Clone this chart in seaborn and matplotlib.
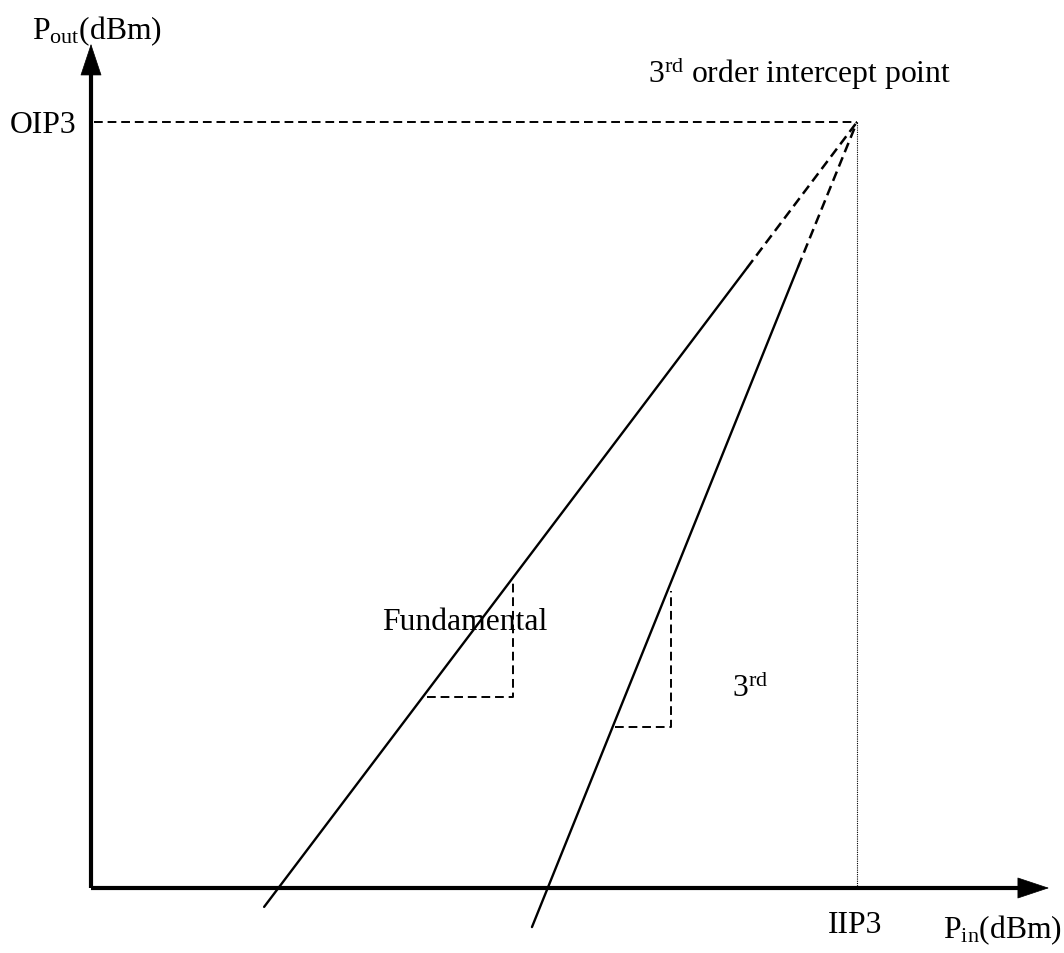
import numpy as np
import pandas as pd
import matplotlib
matplotlib.use("Agg")
import matplotlib.pyplot as plt
import seaborn as sns

# ---- data (arbitrary dBm units; IIP3 = OIP3 = 30) ----
IIP3 = 30.0
OIP3 = 30.0
fund_solid_x = [6.78, 25.69]
fund_solid_y = [-0.74, 24.28]
fund_dash_x = [25.69, IIP3]
fund_dash_y = [24.28, OIP3]
third_solid_x = [17.27, 27.69]
third_solid_y = [-1.53, 24.32]
third_dash_x = [27.69, IIP3]
third_dash_y = [24.32, OIP3]
fund_tri_x = [13.16, 16.53, 16.53]
fund_tri_y = [7.48, 7.48, 12.10]
third_tri_x = [20.52, 22.72, 22.72]
third_tri_y = [6.31, 6.31, 11.63]
x_axis_end = 37.52
y_axis_end = 33.06

sns.set_theme(style="white")
plt.rcParams['font.family'] = ['Liberation Serif', 'DejaVu Serif']
plt.rcParams['text.color'] = 'black'
plt.rcParams['mathtext.fontset'] = 'custom'
plt.rcParams['mathtext.rm'] = 'Liberation Serif'
plt.rcParams['mathtext.it'] = 'Liberation Serif:italic'
plt.rcParams['mathtext.bf'] = 'Liberation Serif:bold'

fig = plt.figure(figsize=(10.64, 9.54), dpi=100)
ax = fig.add_axes([0, 0, 1, 1])
ax.axis('off')
s = 766 / 30.0
ax.set_xlim(-91 / s, (1064 - 91) / s)
ax.set_ylim((889 - 954) / s, 889 / s)

def line(x, y, **kw):
    df = pd.DataFrame({"x": x, "y": y})
    sns.lineplot(data=df, x="x", y="y", sort=False, estimator=None, ax=ax,
                 color="black", **kw)

# main lines
line(fund_solid_x, fund_solid_y, lw=1.7)
line(fund_dash_x, fund_dash_y, lw=1.8, linestyle=(0, (4.0, 2.2)))
line(third_solid_x, third_solid_y, lw=1.7)
line(third_dash_x, third_dash_y, lw=1.8, linestyle=(0, (4.0, 2.2)))
# slope triangles
line(fund_tri_x, fund_tri_y, lw=1.4, linestyle=(0, (4.5, 2.5)))
line(third_tri_x, third_tri_y, lw=1.4, linestyle=(0, (4.5, 2.5)))
# OIP3 / IIP3 guides
line([0.1, IIP3], [OIP3, OIP3], lw=1.4, linestyle=(0, (4.5, 2.5)))
line([IIP3, IIP3], [0, OIP3], lw=0.8, linestyle=(0, (1, 1)))

# axes with arrows
ax.plot([0, 0], [0, y_axis_end - 1.0], color='black', lw=3, solid_capstyle='butt')
ax.plot([0, x_axis_end - 1.0], [0, 0], color='black', lw=3, solid_capstyle='butt')
ap = dict(arrowstyle='-|>,head_length=2.16,head_width=0.72', lw=0.5,
          fc='black', ec='black', mutation_scale=10, shrinkA=0, shrinkB=0)
ax.annotate('', xy=(0, y_axis_end), xytext=(0, y_axis_end - 1.5), arrowprops=ap)
ax.annotate('', xy=(x_axis_end, 0), xytext=(x_axis_end - 1.5, 0), arrowprops=ap)

fs = 22.8
ax.text(-2.311, 33.30, r'P$_{\mathrm{out}}$(dBm)', fontsize=fs, ha='left', va='baseline')
ax.text(-3.172, 29.61, 'OIP3', fontsize=fs, ha='left', va='baseline')
ax.text(33.68, 31.57, r'3$^{\mathrm{rd}}$ order intercept point', fontsize=fs,
        ha='right', va='baseline')
ax.text(11.40, 10.14, 'Fundamental', fontsize=fs, ha='left', va='baseline')
ax.text(25.10, 7.52, r'3$^{\mathrm{rd}}$', fontsize=fs, ha='left', va='baseline')
ax.text(28.86, -1.72, 'IIP3', fontsize=fs, ha='left', va='baseline')
ax.text(33.37, -1.92, r'P$_{\mathrm{in}}$(dBm)', fontsize=fs, ha='left', va='baseline')

fig.savefig('out.png', dpi=100, facecolor='white')
